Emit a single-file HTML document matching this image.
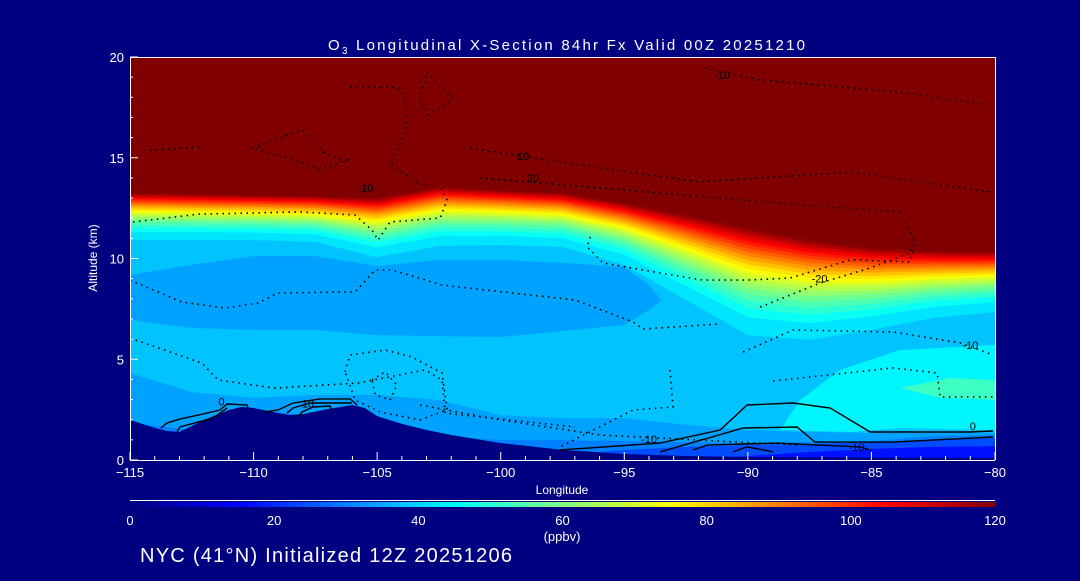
<!DOCTYPE html>
<html><head><meta charset="utf-8">
<style>
html,body{margin:0;padding:0;background:#000080;}
body{width:1080px;height:576px;overflow:hidden;font-family:"Liberation Sans",sans-serif;}
svg text{font-family:"Liberation Sans",sans-serif;fill:#fff;}
</style></head>
<body>
<svg id="chart" width="1080" height="576" viewBox="0 0 1080 576" xmlns="http://www.w3.org/2000/svg">
<rect x="0" y="0" width="1080" height="576" fill="#000080"/>
<defs><clipPath id="pc"><rect x="130" y="57" width="865" height="403"/></clipPath></defs>
<g id="plot" clip-path="url(#pc)"></g>
<g id="lines" clip-path="url(#pc)"></g>
<g id="axes"></g>
<text x="328" y="50" font-size="15" textLength="477" lengthAdjust="spacing">O<tspan font-size="10" dy="4">3</tspan><tspan dy="-4"> Longitudinal X-Section 84hr  Fx Valid 00Z 20251210</tspan></text>
<text x="97" y="258" font-size="12" text-anchor="middle" transform="rotate(-90 97 258)">Altitude (km)</text>
<text x="562" y="494" font-size="12" text-anchor="middle">Longitude</text>
<text x="562" y="541" font-size="13" text-anchor="middle">(ppbv)</text>
<text x="140" y="562" font-size="20" textLength="372" lengthAdjust="spacing">NYC (41°N) Initialized 12Z 20251206</text>
</svg>
<script>
// ---- data ----
const gridLons = [-115,-112.5,-110,-107.5,-105,-102.5,-100,-97.5,-95,-92.5,-90,-87.5,-85,-82.5,-80];
const tropopauseAlt = [13.25,13.2,13.15,13.1,13.0,13.55,13.4,13.25,12.75,12.16,11.51,10.92,10.52,10.37,10.32];
const lowGradientAlt = [10.92,10.92,10.92,10.82,10.07,10.62,10.67,10.57,9.68,7.94,6.2,5.96,6.45,7.05,7.34];
const layer34Top = [4.32,3.37,3.08,3.23,3.23,2.98,2.23,2.08,2.08,1.74,1.49,1.39,1.34,1.34,1.34];
const layer30Top = [1.84,1.49,2.48,2.18,2.08,1.19,0.99,0.99,0.94,0.89,0.84,0.89,0.94,1.19,1.24];
const layer24Top = [0,0,0,0,0,0,0,0.25,0.5,0.65,0.74,0.79,0.89,0.99,1.09];
const layer18Top = [0,0,0,0,0,0,0,0,0,0,0.2,0.4,0.55,0.65,0.69];
const midBlueLons = [-115,-112.5,-110,-107.5,-105,-102.5,-100,-97.5,-95,-94,-93.5];
const midBlueTop = [9.18,9.68,10.12,10.12,9.63,9.93,9.93,9.78,9.58,8.68,7.94];
const midBlueBottom = [6.95,6.55,6.45,6.45,6.2,6.15,6.1,6.4,6.7,7.44,7.94];
const terrainLons = [-115,-114,-113.5,-113,-112,-111,-110.5,-110,-109,-108.5,-108,-107,-106,-105.5,-105,-104,-103,-102,-100,-97.5,-95,-92.5,-90,-85,-80];
const terrainAlt = [1.99,1.59,1.44,1.39,1.99,2.48,2.63,2.58,2.33,2.23,2.28,2.53,2.73,2.58,2.18,1.79,1.49,1.24,0.84,0.5,0.3,0.2,0.15,0.12,0.1];
const cyanPatch = [[-88.69,1.49],[-87.89,2.98],[-86.27,4.47],[-83.84,5.46],[-80,5.71],[-80,1.49],[-83.84,1.59],[-85.86,1.39]];
const turqPatch = [[-83.84,3.57],[-81.82,4.07],[-80,3.97],[-80,2.98],[-82.22,3.08]];
const dotted = [
 [[-114.88,11.81],[-112.17,12.21],[-108.12,12.31],[-105.89,12.16],[-105.21,11.41],[-104.96,10.92],[-104.48,11.81],[-102.45,12.01],[-102.17,12.9],[-102.45,13.5]],
 [[-96.38,11.07],[-96.5,10.57],[-95.86,9.78],[-93.55,9.28],[-91.81,8.93],[-90.03,8.93],[-88.29,9.03],[-85.86,9.93],[-83.43,9.83],[-83.23,10.92]],
 [[-89.5,7.59],[-87.08,8.78],[-85.05,9.53],[-83.43,10.27],[-83.31,11.07],[-83.64,11.81]],
 [[-90.19,5.36],[-88.17,6.45],[-84.12,6.35],[-81.41,5.81],[-80.08,5.21]],
 [[-88.98,3.92],[-84.12,4.57],[-82.34,4.32],[-82.22,3.13],[-80.08,3.13]],
 [[-93.15,4.47],[-93.03,2.63],[-94.64,2.48],[-97.6,0.65]],
 [[-115,8.93],[-112.9,7.84],[-111.16,7.54],[-109.82,7.79],[-109.01,8.29],[-105.89,8.34],[-105.08,9.43],[-104.4,9.43],[-102.37,8.68],[-96.99,7.94],[-94.64,6.85],[-94.24,6.5],[-91.12,6.75]],
 [[-115,6.05],[-112.09,4.81],[-111.44,3.97],[-109.13,3.57],[-105.77,3.82],[-103.06,4.47],[-102.37,3.97],[-102.25,2.33],[-96.99,1.64]],
 [[-106.3,4.37],[-106.1,5.21],[-104.68,5.46],[-103.59,5.11],[-102.37,4.32],[-102.17,2.48],[-103.26,1.99],[-104.88,2.38],[-105.89,2.98],[-106.3,4.37]],
 [[-105.21,3.97],[-104.68,4.37],[-104.2,3.72],[-104.48,2.98],[-105.08,3.23],[-105.21,3.97]],
 [[-103.26,2.73],[-100.03,1.99],[-95.98,1.24],[-91.93,0.99],[-87.89,0.74]],
 [[-110.06,15.48],[-108.04,16.38],[-107.03,15.14],[-106.22,14.89],[-107.31,14.39],[-108.32,14.89],[-110.06,15.48]],
 [[-106.1,18.51],[-104.2,18.51],[-103.87,18.01],[-103.79,16.38],[-104.48,14.74],[-103.55,13.9],[-102.98,13.55]],
 [[-102.98,19.26],[-101.93,17.87],[-102.94,17.12],[-103.26,18.01],[-102.98,19.26]],
 [[-91.73,19.45],[-89.5,18.86],[-83.84,18.26],[-80.2,17.62]],
 [[-101.24,15.48],[-95.98,14.49],[-91.93,13.8],[-85.86,14.29],[-80.2,13.3]],
 [[-100.84,13.99],[-95.98,13.5],[-87.89,12.66],[-83.64,12.31]],
 [[-114.19,15.38],[-112.17,15.53]]
];
const solid = [
 [[-113.75,1.59],[-113.5,1.84],[-112.98,2.03],[-111.88,2.33],[-111.36,2.48],[-111.07,2.78],[-110.27,2.73],[-110.22,2.58]],
 [[-113.1,1.39],[-112.98,1.64],[-111.64,2.08],[-111.07,2.58]],
 [[-109.54,2.38],[-109.01,2.48],[-108.4,2.83],[-107.31,3.03],[-106.1,3.03],[-105.81,2.73]],
 [[-108.65,2.33],[-108.4,2.58],[-107.72,2.83],[-106.02,2.83]],
 [[-108.2,2.13],[-108.04,2.38],[-107.59,2.63],[-106.91,2.68],[-106.83,2.48]],
 [[-97.6,0.5],[-93.55,0.84],[-91.12,1.49],[-90.03,2.73],[-88.17,2.83],[-86.67,2.58],[-85.05,1.39],[-81.01,1.39],[-80.08,1.44]],
 [[-93.55,0.4],[-90.19,1.59],[-88.01,1.64],[-87.28,0.89],[-84.12,0.89],[-80.08,1.14]],
 [[-92.22,0.5],[-91.65,0.74],[-88.82,0.84],[-85.46,0.65],[-85.05,0.5]],
 [[-90.6,0.4],[-90.03,0.65],[-88.98,0.4]]
];
const contourLabels = ["10","20","10","-20","-10","0","10","-10","0","-10","-10"];
const labelLon = [-105.4,-98.7,-99.1,-87.1,-81.0,-111.3,-107.8,-94.0,-80.9,-85.6,-91.05];
const labelAlt = [13.3,13.8,14.9,8.8,5.5,2.7,2.6,0.85,1.5,0.45,18.9];
const xTicks = [-115,-110,-105,-100,-95,-90,-85,-80];
const yTicks = [0,5,10,15,20];
const cbTicks = [0,20,40,60,80,100,120];

// ---- scales ----
const X = lon => 130 + (lon + 115) * 865 / 35;
const Y = alt => 460 - alt * 20.15;
const CB = v => 130 + v * 865 / 120;
const NS = "http://www.w3.org/2000/svg";
function cl(v){return Math.max(0,Math.min(1,v));}
function jet(v){const t=cl(v/120);
 const r=cl(Math.min(4*t-1.5,-4*t+4.5)),g=cl(Math.min(4*t-0.5,-4*t+3.5)),b=cl(Math.min(4*t+0.5,-4*t+2.5));
 return `rgb(${Math.round(r*255)},${Math.round(g*255)},${Math.round(b*255)})`;}
function mk(tag,parent){const e=document.createElementNS(NS,tag);parent.appendChild(e);return e;}
const plot=document.getElementById('plot'), lines=document.getElementById('lines'), axes=document.getElementById('axes');

let base=mk('rect',plot);


base.setAttribute('x',130);base.setAttribute('y',57);base.setAttribute('width',865);base.setAttribute('height',403);base.setAttribute('fill',jet(38));

for(let v=40; v<=120; v+=4){
  const f=Math.pow((v-40)/80,0.6);
  const pts=gridLons.map((lon,i)=>[X(lon),Y(lowGradientAlt[i]+(tropopauseAlt[i]-lowGradientAlt[i])*f)]);
  const d='M130,40 '+pts.map(p=>'L'+p[0].toFixed(1)+','+p[1].toFixed(1)).join(' ')+' L995,40 Z';
  const p=mk('path',plot);
  
  
  p.setAttribute('d',d);p.setAttribute('fill',jet(Math.min(v+2,120)));
}
function band(lons,top,bot,v,name){
  let d='M'+lons.map((l,i)=>X(l).toFixed(1)+','+Y(top[i]).toFixed(1)).join(' L');
  for(let i=lons.length-1;i>=0;i--) d+=' L'+X(lons[i]).toFixed(1)+','+Y(bot[i]).toFixed(1);
  const p=mk('path',plot);
  
  
  p.setAttribute('d',d+' Z');p.setAttribute('fill',jet(v));
}
function poly(pts,v,name){
  const p=mk('path',plot);
  
  
  p.setAttribute('d','M'+pts.map(q=>X(q[0]).toFixed(1)+','+Y(q[1]).toFixed(1)).join(' L')+' Z');
  p.setAttribute('fill',jet(v));
}
band(midBlueLons,midBlueTop,midBlueBottom,34,'mid-troposphere-band');
poly(cyanPatch,44,'lower-east-cyan-region');
poly(turqPatch,52,'lower-east-turquoise-region');
const zeros=gridLons.map(()=>-1);
band(gridLons,layer34Top,zeros,34,'boundary-layer-34');
band(gridLons,layer30Top,zeros,30,'boundary-layer-30');
band(gridLons,layer24Top,zeros,24,'boundary-layer-24');
band(gridLons,layer18Top,zeros,17,'boundary-layer-18');
{
 let d='M'+terrainLons.map((l,i)=>X(l).toFixed(1)+','+Y(terrainAlt[i]).toFixed(1)).join(' L')+' L995,470 L130,470 Z';
 const p=mk('path',plot);
 
 
 p.setAttribute('d',d);p.setAttribute('fill','#000080');
}
function line(pts,dash,name){
  const p=mk('polyline',lines);
  
  
  p.setAttribute('points',pts.map(q=>X(q[0]).toFixed(1)+','+Y(q[1]).toFixed(1)).join(' '));
  p.setAttribute('fill','none');p.setAttribute('stroke','#000');
  if(dash){p.setAttribute('stroke-width','1.6');p.setAttribute('stroke-dasharray','1.5 4.5');}
  else p.setAttribute('stroke-width','1.4');
}
dotted.forEach((c,i)=>line(c,true,'dotted-contour-'+i));
solid.forEach((c,i)=>line(c,false,'solid-contour-'+i));
contourLabels.forEach((t,i)=>{
  const e=mk('text',lines);
  
  
  e.setAttribute('x',X(labelLon[i]));e.setAttribute('y',Y(labelAlt[i]));
  e.setAttribute('font-size','11');e.setAttribute('text-anchor','middle');
  e.setAttribute('style','fill:#000');e.textContent=t;
});
function ln(x1,y1,x2,y2,name,w){const l=mk('line',axes);
  
  
  l.setAttribute('x1',x1);l.setAttribute('y1',y1);l.setAttribute('x2',x2);l.setAttribute('y2',y2);
  l.setAttribute('stroke','#fff');l.setAttribute('stroke-width',w||1);}
ln(130,57.5,995,57.5,'top-axis');
ln(995.5,57,995.5,460,'right-axis');
ln(130,460.5,995,460.5,'x-axis');
ln(130.5,57,130.5,460,'y-axis');
for(let lon=-115;lon<=-80;lon++){const maj=xTicks.includes(lon);ln(X(lon),460,X(lon),maj?452:456,'x-tick');}
for(let a=0;a<=20;a++){const maj=yTicks.includes(a);ln(130,Y(a),maj?138:133,Y(a),'y-tick');}
xTicks.forEach(t=>{const e=mk('text',axes);
  
  
  e.setAttribute('x',X(t));e.setAttribute('y',477);e.setAttribute('font-size','13');e.setAttribute('text-anchor','middle');
  e.textContent=(t<0?'\u2212'+(-t):t);});
yTicks.forEach(t=>{const e=mk('text',axes);
  
  
  e.setAttribute('x',124);e.setAttribute('y',Y(t)+5);e.setAttribute('font-size','13');e.setAttribute('text-anchor','end');
  e.textContent=t;});
ln(130,500.5,995,500.5,'colorbar-top-line');
for(let v=0;v<120;v+=1){const r=mk('rect',axes);
  
  
  r.setAttribute('x',CB(v));r.setAttribute('y',502);r.setAttribute('width',865/120+0.6);r.setAttribute('height',5);r.setAttribute('fill',jet(v+0.5));}
cbTicks.forEach(t=>{const e=mk('text',axes);
  
  
  e.setAttribute('x',CB(t));e.setAttribute('y',525);e.setAttribute('font-size','13');e.setAttribute('text-anchor','middle');
  e.textContent=t;});
</script>
</body></html>
